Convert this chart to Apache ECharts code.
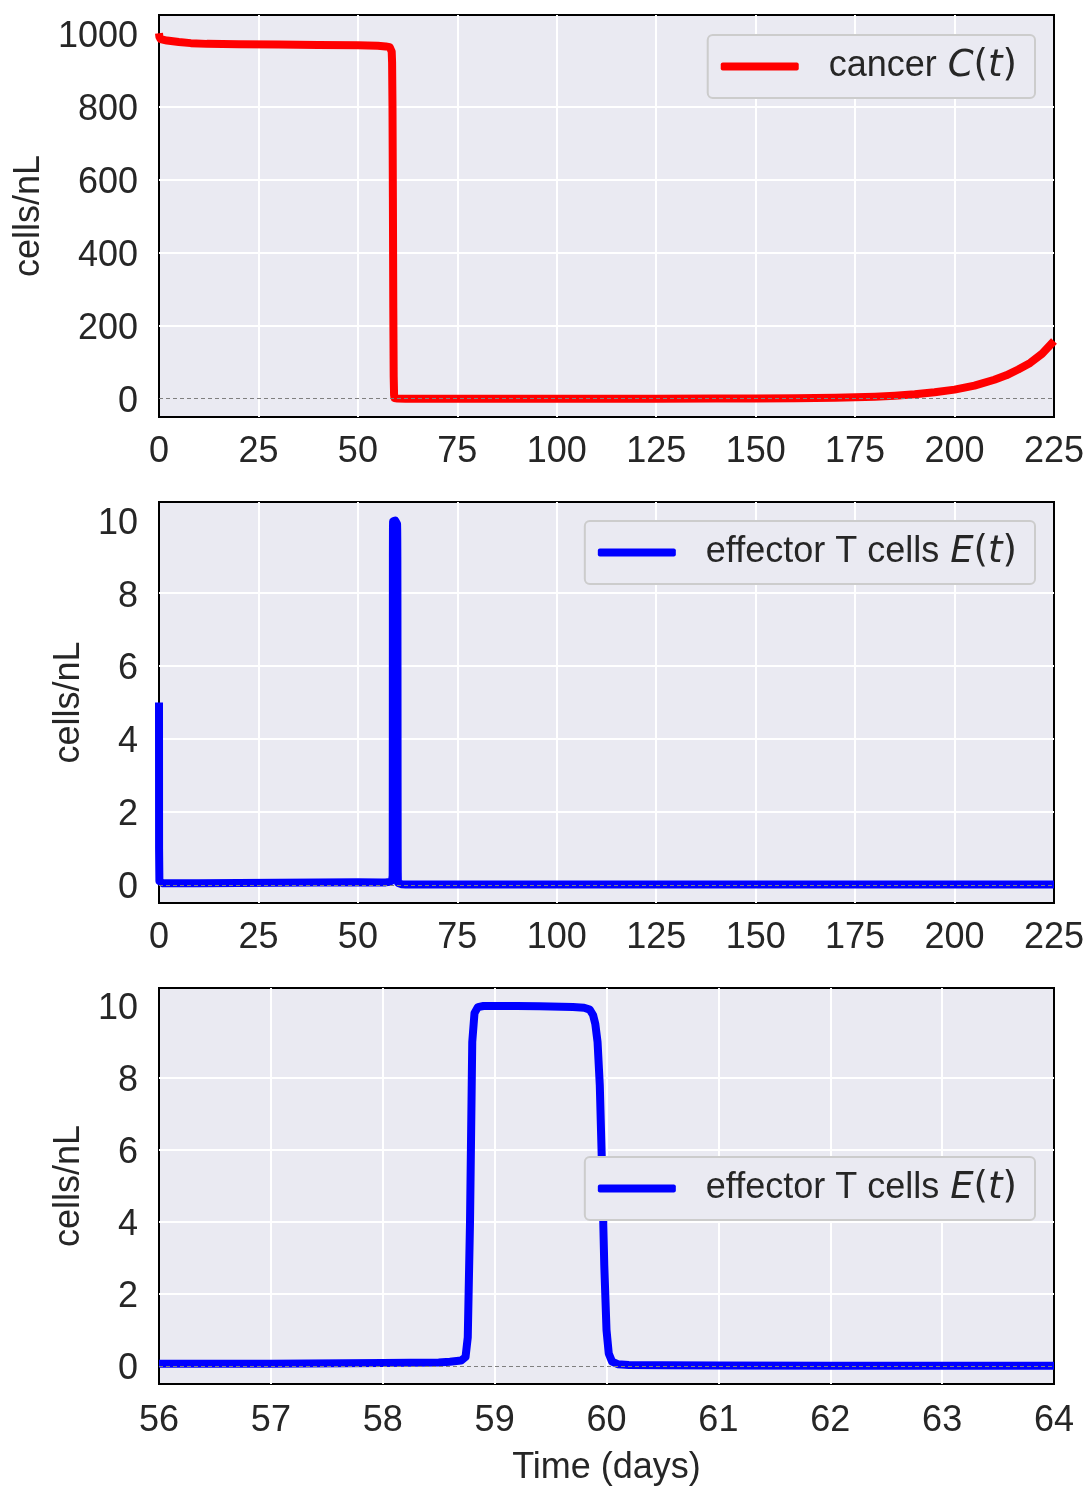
<!DOCTYPE html>
<html>
<head>
<meta charset="utf-8">
<script src="https://cdn.jsdelivr.net/npm/echarts@6/dist/echarts.min.js"></script>
<style>
html,body{margin:0;padding:0;background:#fff;}
#c{width:1089px;height:1487px;}
</style>
</head>
<body>
<div id="c"></div>
<script>
// ---- data ----
const cancerT = [0, 0.1, 0.4, 2, 5, 8, 12, 20, 30, 40, 50, 55, 57, 58, 58.3, 58.5, 58.6, 58.7, 58.8, 58.9, 59.0, 59.1, 59.2, 59.4, 60, 62, 70, 100, 125, 140, 150, 160, 165, 170, 175, 180, 185, 190, 195, 200, 205, 210, 213, 216, 219, 222, 225];
const cancerV = [1000, 990, 984, 980, 976, 973, 971, 970, 969, 968, 967, 966, 964, 962, 960, 950, 920, 800, 550, 250, 60, 10, 2, 0.5, 0.3, 0.1, 0.05, 0.05, 0.1, 0.3, 0.6, 1.2, 1.8, 2.6, 3.8, 5.6, 8.2, 12, 17.5, 25, 36, 52, 64, 80, 98, 123, 158];

const effT = [0, 0.02, 0.1, 1, 5, 10, 20, 30, 40, 50, 56, 57, 58, 58.5, 58.6, 58.7, 58.74, 58.76, 58.78, 58.8, 58.82, 58.85, 58.9, 59.0, 59.2, 59.4, 59.6, 59.7, 59.8, 59.85, 59.88, 59.9, 59.92, 59.94, 59.96, 59.98, 60.0, 60.02, 60.05, 60.1, 60.2, 60.5, 61, 62, 64, 75, 100, 125, 150, 175, 200, 225];
const effV = [5, 1.0, 0.1, 0.04, 0.04, 0.045, 0.05, 0.055, 0.06, 0.07, 0.06, 0.065, 0.08, 0.1, 0.12, 0.15, 0.25, 0.8, 4, 9.0, 9.8, 9.97, 10.0, 10.0, 10.0, 9.99, 9.98, 9.97, 9.95, 9.9, 9.75, 9.5, 9.0, 7.8, 5.5, 2.8, 1.0, 0.35, 0.12, 0.05, 0.03, 0.02, 0.015, 0.01, 0.01, 0.01, 0.01, 0.01, 0.01, 0.01, 0.01, 0.01];

const yTicksCancer = [0, 200, 400, 600, 800, 1000];
const yTicksEff = [0, 2, 4, 6, 8, 10];
const xRangeLong = [0, 225, 25];
const xRangeZoom = [56, 64, 1];
const yRangeCancer = [-50, 1050];
const yRangeEff = [-0.5, 10.5];

const nameCancer = 'cancer C(t)';
const nameEff = 'effector T cells E(t)';
const yLabel = 'cells/nL';
const xLabel = 'Time (days)';

// ---- build ----
const zip = (a, b) => a.map((v, i) => [v, b[i]]);
const inRange = (pts, r) => pts.filter(p => p[0] >= r[0] && p[0] <= r[1]);
const FONT = 'Liberation Sans, Arial, sans-serif';
const TXT = '#262626';
const GRIDS = [
  {left: 159, width: 895, top: 15, height: 402},
  {left: 159, width: 895, top: 502, height: 401},
  {left: 159, width: 895, top: 988, height: 401}
];

function xAxis(i, r, withName) {
  return {
    type: 'value', gridIndex: i, min: r[0], max: r[1], interval: r[2],
    axisLine: {show: false}, axisTick: {show: false},
    axisLabel: {color: TXT, fontSize: 36, fontFamily: FONT, margin: withName ? 19 : 17, formatter: v => String(v)},
    splitLine: {show: true, showMinLine: false, showMaxLine: false, lineStyle: {color: '#ffffff', width: 2}},
    name: withName ? xLabel : '', nameLocation: 'middle', nameGap: 66,
    nameTextStyle: {color: TXT, fontSize: 36, fontFamily: FONT}
  };
}
function yAxis(i, r, ticks, gap) {
  return {
    type: 'value', gridIndex: i, min: r[0], max: r[1],
    axisLine: {show: false},
    axisTick: {show: false, customValues: ticks},
    axisLabel: {color: TXT, fontSize: 36, fontFamily: FONT, margin: 21,
                customValues: ticks, formatter: v => '{a|' + String(v) + '}',
                rich: {a: {fontSize: 36, fontFamily: FONT, color: TXT, padding: [7, 0, 0, 0]}}},
    splitLine: {show: true, showMinLine: false, showMaxLine: false, lineStyle: {color: '#ffffff', width: 2}},
    name: yLabel, nameLocation: 'middle', nameGap: gap, nameRotate: 90,
    nameTextStyle: {color: TXT, fontSize: 36, fontFamily: FONT}
  };
}
const zeroLine = {
  silent: true, symbol: 'none', label: {show: false},
  lineStyle: {color: '#808080', type: [4, 3], width: 1.2},
  data: [{yAxis: 0}]
};
function lineSeries(name, color, xi, data) {
  return {
    name: name, type: 'line', xAxisIndex: xi, yAxisIndex: xi, data: data,
    showSymbol: false, symbol: 'none', animation: false, clip: true,
    lineStyle: {color: color, width: 8, cap: 'butt', join: 'round'},
    itemStyle: {color: color},
    markLine: zeroLine, z: 2
  };
}
const rich = {
  n: {fontSize: 36, fontFamily: FONT, color: TXT, lineHeight: 38},
  g: {width: 11, fontSize: 36, fontFamily: FONT, lineHeight: 38},
  i: {fontSize: 37, fontFamily: 'DejaVu Sans', fontStyle: 'italic', color: TXT, lineHeight: 38},
  p: {fontSize: 37, fontFamily: 'DejaVu Sans', color: TXT, lineHeight: 38},
  sp: {width: 25, fontSize: 36, lineHeight: 38}
};
function fmt(name) {
  if (name === nameCancer) return '{sp| }{n|cancer}{g| }{i|C}{p|(}{i|t}{p|)}';
  return '{sp| }{n|effector T cells}{g| }{i|E}{p|(}{i|t}{p|)}';
}
function legend(name, top) {
  return {
    data: [{name: name, icon: 'roundRect'}], right: 54, top: top,
    orient: 'vertical', itemWidth: 78, itemHeight: 8,
    padding: [13, 18, 13, 13],
    backgroundColor: '#EAEAF2', borderColor: '#cccccc', borderWidth: 2, borderRadius: 5,
    formatter: fmt, textStyle: {rich: rich, fontSize: 36}, selectedMode: false
  };
}

const chart = echarts.init(document.getElementById('c'), null, {renderer: 'canvas'});
chart.setOption({
  animation: false,
  backgroundColor: '#ffffff',
  grid: GRIDS.map(g => Object.assign({show: true, backgroundColor: '#EAEAF2', borderColor: '#000000', borderWidth: 2}, g)),
  xAxis: [xAxis(0, xRangeLong, false), xAxis(1, xRangeLong, false), xAxis(2, xRangeZoom, true)],
  yAxis: [yAxis(0, yRangeCancer, yTicksCancer, 112), yAxis(1, yRangeEff, yTicksEff, 72), yAxis(2, yRangeEff, yTicksEff, 72)],
  legend: [legend(nameCancer, 35), legend(nameEff, 521), legend(nameEff, 1157)],
  series: [
    lineSeries(nameCancer, '#ff0000', 0, zip(cancerT, cancerV)),
    lineSeries(nameEff, '#0000ff', 1, zip(effT, effV)),
    lineSeries(nameEff, '#0000ff', 2, inRange(zip(effT, effV), xRangeZoom))
  ]
});
</script>
</body>
</html>
